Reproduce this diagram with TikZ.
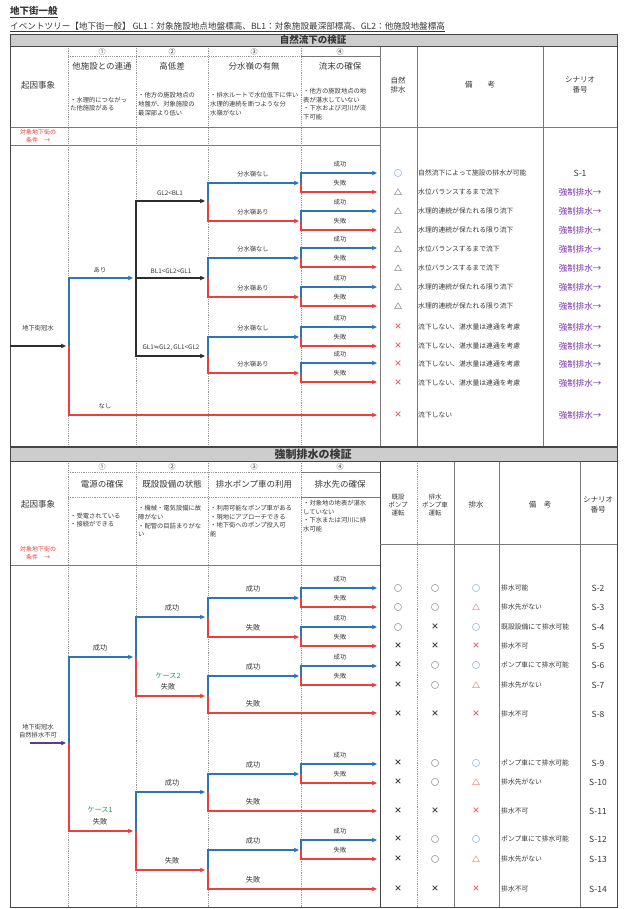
\documentclass[tikz,border=0pt]{standalone}
\usepackage{fontspec}
\newfontfamily\cjk{Noto Sans CJK JP}
\newfontfamily\dv{DejaVu Sans}
\usetikzlibrary{arrows.meta}
\definecolor{cB}{RGB}{46,117,182}
\definecolor{cR}{RGB}{232,64,60}
\definecolor{cK}{RGB}{45,45,45}
\definecolor{cP}{RGB}{120,50,170}
\definecolor{cG}{RGB}{40,150,90}
\definecolor{cX}{RGB}{235,95,95}
\definecolor{txt}{RGB}{55,55,55}
\definecolor{hdr}{RGB}{205,205,205}
\definecolor{frm}{RGB}{70,70,70}
\definecolor{cGl}{RGB}{120,120,120}
\definecolor{cDash}{RGB}{150,150,150}
\definecolor{cV}{RGB}{85,65,130}
\begin{document}
\begin{tikzpicture}[x=1pt,y=-1pt,
  every node/.style={inner sep=0pt,text=txt,font=\cjk\fontsize{7}{8}\selectfont},
  ttl/.style={font=\cjk\bfseries\fontsize{9.5}{11}\selectfont,anchor=west},
  subt/.style={font=\cjk\fontsize{8.6}{9}\selectfont,anchor=west},
  bar/.style={font=\cjk\bfseries\fontsize{9.5}{11}\selectfont},
  barL/.style={font=\cjk\bfseries\fontsize{11}{12}\selectfont},
  num/.style={font=\cjk\fontsize{7}{8}\selectfont},
  head/.style={font=\cjk\fontsize{8.5}{10}\selectfont},
  desc/.style={font=\cjk\fontsize{6.3}{8.8}\selectfont,align=left,anchor=west},
  rh/.style={font=\cjk\fontsize{7.5}{9.5}\selectfont,align=center},
  rhs/.style={font=\cjk\fontsize{6.5}{8}\selectfont,align=center},
  cond/.style={font=\cjk\fontsize{6}{7.5}\selectfont,text=cR,align=center},
  lab/.style={font=\cjk\fontsize{6.3}{7.5}\selectfont,align=center},
  labL/.style={font=\cjk\fontsize{7.2}{8.5}\selectfont},
  rem/.style={font=\cjk\fontsize{6.8}{8}\selectfont,anchor=west},
  sym/.style={font=\cjk\bfseries\fontsize{8}{9}\selectfont},
  scn/.style={font=\cjk\fontsize{8.5}{9}\selectfont},
  frame/.style={draw=frm,line width=0.9pt},
  sl/.style={draw=cGl,line width=0.6pt},
  dsh/.style={draw=cDash,line width=0.5pt,dash pattern=on 1.2pt off 1pt},
  ar/.style={line width=1.3pt,-{Stealth[length=5pt,width=4.5pt,inset=1pt]}},
  bl/.style={ar,draw=cB},
  rd/.style={ar,draw=cR},
  bk/.style={ar,draw=cK,line width=1.6pt},
  pu/.style={ar,draw=cV,line width=1.6pt}]
\useasboundingbox (0,0) rectangle (623,909);

% ---------- titles ----------
\node[ttl] (title) at (10,12) {\underline{地下街一般}};
\node[subt] (subtitle) at (10,27) {\underline{イベントツリー【地下街一般】 GL1：対象施設地点地盤標高、BL1：対象施設最深部標高、GL2：他施設地盤標高}};

% ---------- upper table grid ----------
\fill[hdr] (10,34) rectangle (617,46);
\foreach \x in {68,136,208,301} \draw[dsh] (\x,46) -- (\x,446);
\foreach \x in {380,417,543} \draw[sl] (\x,46) -- (\x,446);
\draw[dsh] (68,56) -- (301,56);
\draw[sl] (301,56) -- (380,56);
\draw[sl] (10,127) -- (617,127);
\draw[sl] (10,145) -- (380,145);
\draw[frame] (10,34) rectangle (617,446);
\draw[frame] (10,46) -- (617,46);
\node[bar] (ubar) at (313,40) {自然流下の検証};

\node[num] (un1) at (102,51.5) {①};
\node[num] (un2) at (172,51.5) {②};
\node[num] (un3) at (254,51.5) {③};
\node[num] (un4) at (340,51.5) {④};
\node[head] (uh1) at (102,66) {他施設との連通};
\node[head] (uh2) at (172,66) {高低差};
\node[head] (uh3) at (254,66) {分水嶺の有無};
\node[head] (uh4) at (340,66) {流末の確保};
\node[desc] (ud1) at (70,104) {・水理的につながっ\\た他施設がある};
\node[desc] (ud2) at (138,104) {・他方の施設地点の\\地盤が、対象施設の\\最深部より低い};
\node[desc] (ud3) at (210,104) {・排水ルートで水位低下に伴い\\水理的連続を断つような分\\水嶺がない};
\node[desc] (ud4) at (303,104) {・他方の施設地点の地\\表が湛水していない\\・下水および河川が流\\下可能};
\node[head] (uk) at (38,85) {起因事象};
\node[cond] (ucond) at (38,136) {対象地下街の\\条件　→};
\node[rh] (ur1) at (398,85) {自然\\排水};
\node[rh] (ur2) at (480,85) {備　　考};
\node[rh] (ur3) at (580,85) {シナリオ\\番号};

% ---------- upper tree ----------
\coordinate (u0) at (10,346);
\coordinate (u0e) at (66,346);
\draw[bk] (u0) -- (u0e);
\node[lab] (uev) at (38,328) {地下街冠水};
\coordinate (u1) at (69,346);
\coordinate (u1b) at (133,278);
\coordinate (u1r) at (377,415);
\draw[bl] (u1) |- (u1b);
\draw[rd] (u1) |- (u1r);
\node[lab] (uari) at (100,270) {あり};
\node[lab] (unashi) at (105,406) {なし};
\coordinate (u2) at (136,278);
\coordinate (u2a) at (205,201);
\coordinate (u2b) at (205,278);
\coordinate (u2c) at (205,356);
\draw[bk] (u2) |- (u2a);
\draw[bk,line width=1.2pt] (u2) -- (u2b);
\draw[bk] (u2) |- (u2c);
\node[lab] (u2al) at (170,193) {GL2<BL1};
\node[lab] (u2bl) at (171,271) {BL1<GL2<GL1};
\node[lab] (u2cl) at (171,348) {GL1{\dv ≒}GL2, GL1<GL2};
\foreach \n/\y/\yb/\yr in {1/201/183/221,2/278/258/297,3/356/337/373}{
  \coordinate (ut\n) at (208,\y);
  \coordinate (ut\n-b) at (299,\yb);
  \coordinate (ut\n-r) at (299,\yr);
  \draw[bl] (ut\n) |- (ut\n-b);
  \draw[rd] (ut\n) |- (ut\n-r);
  \node[lab] (ut\n-bl) at (253,\yb-9) {分水嶺なし};
  \node[lab] (ut\n-rl) at (253,\yr-9) {分水嶺あり};
}
\foreach \n/\y in {1/183,2/221,3/258,4/297,5/337,6/373}{
  \coordinate (uf\n) at (301,\y);
  \coordinate (uf\n-b) at (377,\y-10);
  \coordinate (uf\n-r) at (377,\y+9);
  \draw[bl] (uf\n) |- (uf\n-b);
  \draw[rd] (uf\n) |- (uf\n-r);
  \node[lab] (uf\n-bl) at (340,\y-19) {成功};
  \node[lab] (uf\n-rl) at (340,\y) {失敗};
}

% ---------- upper result rows ----------
\foreach \y/\vs/\vk/\vr/\vn in {
 173/○/cB/自然流下によって施設の排水が可能/1,
 192/△/txt/水位バランスするまで流下/2,
 211/△/txt/水理的連続が保たれる限り流下/3,
 230/△/txt/水理的連続が保たれる限り流下/4,
 249/△/txt/水位バランスするまで流下/5,
 268/△/txt/水位バランスするまで流下/6,
 287/△/txt/水理的連続が保たれる限り流下/7,
 306/△/txt/水理的連続が保たれる限り流下/8,
 327/×/cX/流下しない、湛水量は連通を考慮/9,
 346/×/cX/流下しない、湛水量は連通を考慮/10,
 364/×/cX/流下しない、湛水量は連通を考慮/11,
 383/×/cX/流下しない、湛水量は連通を考慮/12,
 415/×/cX/流下しない/13}{
  \node[sym,text=\vk] (us\vn) at (398,\y) {\vs};
  \node[rem] (urm\vn) at (418,\y) {\vr};
}
\node[scn] (usc1) at (580,173) {S-1};
\foreach \y/\vn in {192/2,211/3,230/4,249/5,268/6,287/7,306/8,327/9,346/10,364/11,383/12,415/13}{
  \node[scn,text=cP] (usc\vn) at (580,\y) {強制排水→};
}

% ---------- lower table grid ----------
\fill[hdr] (10,447) rectangle (617,461);
\foreach \x in {68,136,208,301,417} \draw[dsh] (\x,461) -- (\x,907);
\foreach \x in {454,499,580} \draw[sl] (\x,461) -- (\x,907);
\draw[frame] (380,461) -- (380,907);
\draw[dsh] (68,472) -- (301,472);
\draw[sl] (301,472) -- (380,472);
\draw[dsh] (68,497) -- (301,497);
\draw[sl] (301,497) -- (380,497);
\draw[sl] (10,565) -- (380,565);
\draw[sl] (380,544) -- (617,544);
\draw[frame] (10,447) rectangle (617,907);
\draw[frame] (10,461) -- (617,461);
\node[barL] (lbar) at (313,454) {強制排水の検証};

\node[num] (ln1) at (102,466.5) {①};
\node[num] (ln2) at (172,466.5) {②};
\node[num] (ln3) at (254,466.5) {③};
\node[num] (ln4) at (340,466.5) {④};
\node[head] (lh1) at (102,484) {電源の確保};
\node[head] (lh2) at (172,484) {既設設備の状態};
\node[head] (lh3) at (254,484) {排水ポンプ車の利用};
\node[head] (lh4) at (340,484) {排水先の確保};
\node[desc] (ld1) at (70,520) {・受電されている\\・接続ができる};
\node[desc] (ld2) at (138,521) {・機械・電気設備に故\\障がない\\・配管の目詰まりがな\\い};
\node[desc] (ld3) at (210,521) {・利用可能なポンプ車がある\\・現地にアプローチできる\\・地下街へのポンプ投入可\\能};
\node[desc] (ld4) at (303,516) {・対象地の地表が湛水\\していない\\・下水または河川に排\\水可能};
\node[head] (lk) at (38,504) {起因事象};
\node[cond] (lcond) at (38,553) {対象地下街の\\条件　→};
\node[rhs] (lr1) at (398,505) {既設\\ポンプ\\運転};
\node[rhs] (lr2) at (435,505) {排水\\ポンプ車\\運転};
\node[rh] (lr3) at (476,505) {排水};
\node[rh] (lr4) at (540,505) {備　考};
\node[rh] (lr5) at (598,505) {シナリオ\\番号};

% ---------- lower tree ----------
\coordinate (l0) at (30,743);
\coordinate (l0e) at (66,743);
\draw[pu] (l0) -- (l0e);
\node[lab] (lev) at (38,731) {地下街冠水\\自然排水不可};
\coordinate (l1) at (69,743);
\coordinate (l1b) at (133,657);
\coordinate (l1r) at (133,831);
\draw[bl] (l1) |- (l1b);
\draw[rd] (l1) |- (l1r);
\node[labL] (l1bl) at (100,648) {成功};
\node[labL,text=cG] (l1case) at (100,810) {ケース1};
\node[labL] (l1rl) at (100,821.5) {失敗};
\coordinate (l2a) at (136,657);
\coordinate (l2a-b) at (205,617);
\coordinate (l2a-r) at (205,696);
\draw[bl] (l2a) |- (l2a-b);
\draw[rd] (l2a) |- (l2a-r);
\node[labL] (l2abl) at (172,608) {成功};
\node[labL,text=cG] (l2case) at (168,676) {ケース2};
\node[labL] (l2arl) at (168,687) {失敗};
\coordinate (l2b) at (136,831);
\coordinate (l2b-b) at (205,792);
\coordinate (l2b-r) at (205,870);
\draw[bl] (l2b) |- (l2b-b);
\draw[rd] (l2b) |- (l2b-r);
\node[labL] (l2bbl) at (172,783) {成功};
\node[labL] (l2brl) at (172,861) {失敗};
\foreach \n/\y/\yb/\yr/\xr in {1/617/598/637/299,2/696/676/713/377,3/792/774/811/377,4/870/850/889/377}{
  \coordinate (lt\n) at (208,\y);
  \coordinate (lt\n-b) at (299,\yb);
  \coordinate (lt\n-r) at (\xr,\yr);
  \draw[bl] (lt\n) |- (lt\n-b);
  \draw[rd] (lt\n) |- (lt\n-r);
  \node[labL] (lt\n-bl) at (253,\yb-9) {成功};
  \node[labL] (lt\n-rl) at (253,\yr-9) {失敗};
}
\foreach \n/\y in {1/598,2/637,3/676,4/774,5/850}{
  \coordinate (lf\n) at (301,\y);
  \coordinate (lf\n-b) at (377,\y-10);
  \coordinate (lf\n-r) at (377,\y+9);
  \draw[bl] (lf\n) |- (lf\n-b);
  \draw[rd] (lf\n) |- (lf\n-r);
  \node[lab] (lf\n-bl) at (340,\y-19) {成功};
  \node[lab] (lf\n-rl) at (340,\y) {失敗};
}

% ---------- lower result rows ----------
\foreach \y/\va/\vb/\vc/\vk/\vr/\vn in {
 588/○/○/○/cB/排水可能/2,
 607/○/○/△/cR/排水先がない/3,
 627/○/×/○/cB/既設設備にて排水可能/4,
 646/×/×/×/cX/排水不可/5,
 665/×/○/○/cB/ポンプ車にて排水可能/6,
 685/×/○/△/cR/排水先がない/7,
 714/×/×/×/cX/排水不可/8,
 763/×/○/○/cB/ポンプ車にて排水可能/9,
 782/×/○/△/cR/排水先がない/10,
 811/×/×/×/cX/排水不可/11,
 839/×/○/○/cB/ポンプ車にて排水可能/12,
 859/×/○/△/cR/排水先がない/13,
 889/×/×/×/cX/排水不可/14}{
  \node[sym] (la\vn) at (398,\y) {\va};
  \node[sym] (lb\vn) at (435,\y) {\vb};
  \node[sym,text=\vk] (lc\vn) at (476,\y) {\vc};
  \node[rem] (lrm\vn) at (501,\y) {\vr};
  \node[scn] (lsc\vn) at (598,\y) {S-\vn};
}
\end{tikzpicture}
\end{document}
